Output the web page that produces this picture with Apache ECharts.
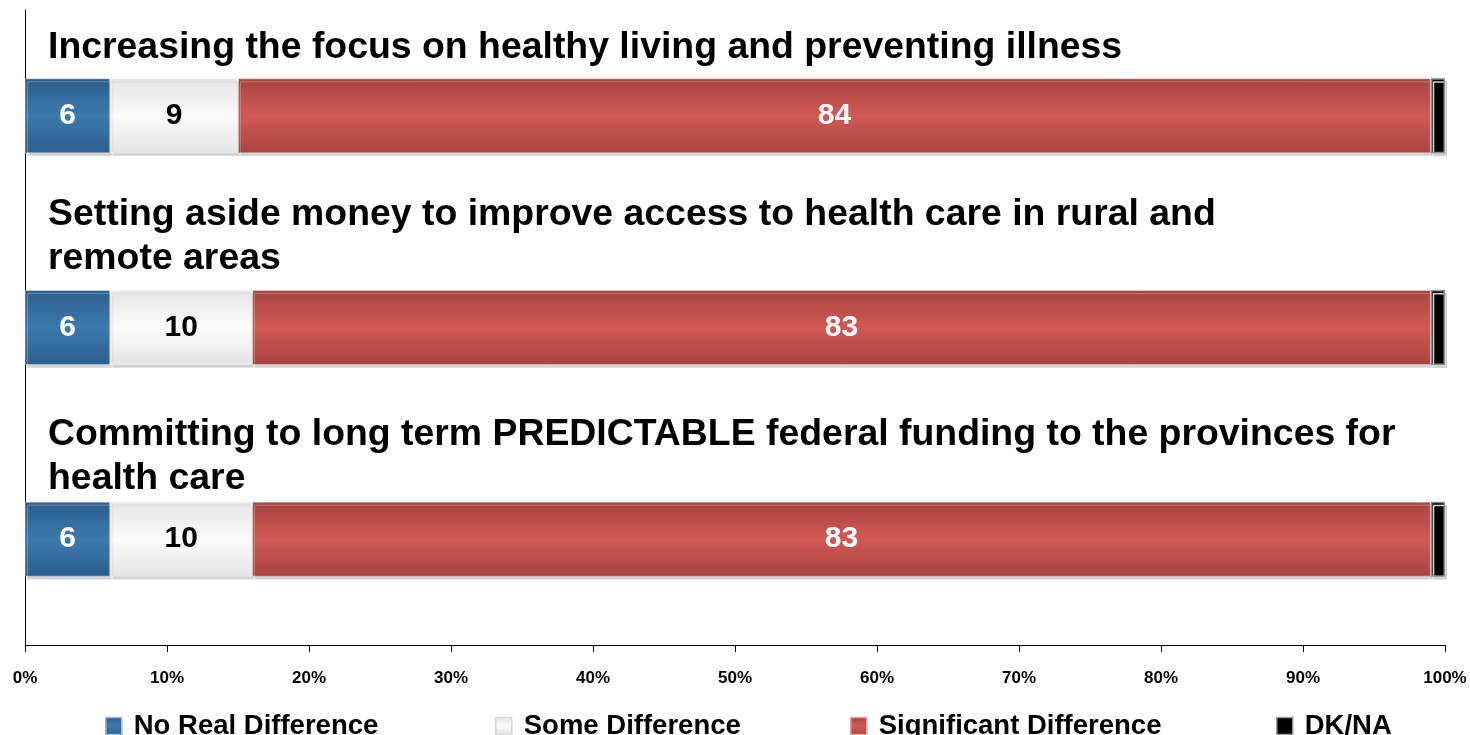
<!DOCTYPE html>
<html>
<head>
<meta charset="utf-8">
<script src="https://cdn.jsdelivr.net/npm/echarts@6/dist/echarts.min.js"></script>
<style>
  html, body { margin: 0; padding: 0; background: #fff; }
  #chart { width: 1470px; height: 735px; }
</style>
</head>
<body>
<div id="chart"></div>
<script>
// Statements shown above each bar
const categories = [
  'Increasing the focus on healthy living and preventing illness',
  'Setting aside money to improve access to health care in rural and\nremote areas',
  'Committing to long term PREDICTABLE federal funding to the provinces for\nhealth care'
];
const seriesNames = ['No Real Difference', 'Some Difference', 'Significant Difference', 'DK/NA'];
const noRealDifference = [6, 6, 6];
const someDifference = [9, 10, 10];
const significantDifference = [84, 83, 83];
const dkNa = [1, 1, 1];
const xTickLabels = ['0%', '10%', '20%', '30%', '40%', '50%', '60%', '70%', '80%', '90%', '100%'];

const FONT = '"Liberation Sans", Arial, sans-serif';

function vGrad(edge, mid) {
  return new echarts.graphic.LinearGradient(0, 0, 0, 1, [
    { offset: 0, color: edge },
    { offset: 0.5, color: mid },
    { offset: 1, color: edge }
  ]);
}

const styles = [
  { color: vGrad('#2c5f8d', '#3c79ac'), label: '#ffffff', legendBorder: '#9fbbd6' },
  { color: vGrad('#e4e4e4', '#fbfbfb'), label: '#000000', legendBorder: '#d8d8d8' },
  { color: vGrad('#a8433f', '#d25855'), label: '#ffffff', legendBorder: '#e8a3a0' },
  { color: '#000000', label: '#ffffff', legendBorder: '#9a9a9a' }
];
const dataSets = [noRealDifference, someDifference, significantDifference, dkNa];

const series = seriesNames.map((name, i) => ({
  name: name,
  type: 'bar',
  stack: 'total',
  barWidth: 75,
  data: dataSets[i],
  itemStyle: {
    color: styles[i].color,
    borderColor: i === 3 ? '#8c8c8c' : 'rgba(255,255,255,0.35)',
    borderWidth: i === 3 ? 1.5 : 1,
    shadowColor: '#d2d2d2',
    shadowOffsetX: 2,
    shadowOffsetY: 3,
    shadowBlur: 0
  },
  label: {
    show: i !== 3,
    position: 'inside',
    formatter: '{c}',
    color: styles[i].label,
    fontFamily: FONT,
    fontWeight: 'bold',
    fontSize: 30
  },
  emphasis: { disabled: true }
}));

const legendLefts = [105, 495, 850, 1276];
const legends = seriesNames.map((name, i) => ({
  data: [{ name: name, itemStyle: { borderColor: styles[i].legendBorder, borderWidth: 1.5 } }],
  left: legendLefts[i],
  top: 712,
  padding: 0,
  itemWidth: 16,
  itemHeight: 17,
  icon: 'rect',
  selectedMode: false,
  textStyle: {
    fontFamily: FONT,
    fontWeight: 'bold',
    fontSize: 27.5,
    color: '#000',
    padding: [0, 0, 0, 7]
  }
}));

const chart = echarts.init(document.getElementById('chart'), null, { renderer: 'canvas' });
chart.setOption({
  animation: false,
  backgroundColor: '#ffffff',
  grid: { left: 25, right: 25, top: 10, bottom: 90, containLabel: false },
  legend: legends,
  xAxis: {
    type: 'value',
    min: 0,
    max: 100,
    interval: 10,
    axisLine: { show: true, lineStyle: { color: '#000', width: 1 } },
    axisTick: { show: true, length: 7, lineStyle: { color: '#000' } },
    splitLine: { show: false },
    axisLabel: {
      formatter: (v) => xTickLabels[Math.round(v / 10)],
      fontFamily: FONT,
      fontWeight: 'bold',
      fontSize: 17,
      color: '#000',
      margin: 25
    }
  },
  yAxis: {
    type: 'category',
    inverse: true,
    data: categories,
    axisLine: { show: true, lineStyle: { color: '#000', width: 1 } },
    axisTick: { show: false },
    axisLabel: { show: false }
  },
  series: series
});

// Statement text placed above each bar
const titleOffsets = [-68, -113, -104];
const graphics = categories.map((c, i) => {
  const y = chart.convertToPixel({ yAxisIndex: 0 }, i);
  return {
    type: 'text',
    left: 48,
    top: y + titleOffsets[i] - 22,
    style: {
      text: c,
      font: 'bold 37.4px ' + FONT,
      lineHeight: 44,
      fill: '#000'
    }
  };
});
chart.setOption({ graphic: graphics });
</script>
</body>
</html>
